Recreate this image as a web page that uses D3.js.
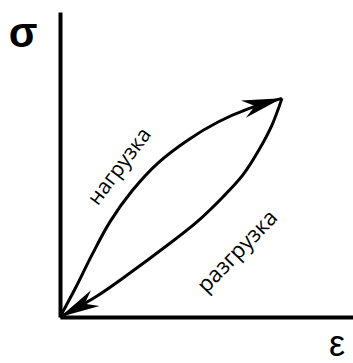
<!DOCTYPE html>
<html>
<head>
<meta charset="utf-8">
<script src="https://cdn.jsdelivr.net/npm/d3@7"></script>
<style>
  body { margin: 0; background: #fff; }
</style>
</head>
<body>
<div id="vizcontainer"></div>
<script>
// strain (eps) / stress (sigma) in arbitrary units, peak at (10, 10)
const loadEps = [0, 0.72, 1.44, 2.25, 3.24, 4.41, 5.77, 7.12, 8.47, 10];
const loadSig = [0, 1.37, 2.84, 4.35, 5.76, 7.04, 8.10, 8.92, 9.52, 10];
const unloadEps = [10, 9.55, 8.96, 8.24, 7.34, 6.17, 4.73, 3.15, 1.67, 0];
const unloadSig = [10, 8.78, 7.64, 6.50, 5.49, 4.35, 3.20, 2.01, 0.96, 0];
const axisLabels = ['σ', 'ε'];
const curveLabels = ['нагрузка', 'разгрузка'];

const width = 353,
  height = 363;

let viz = d3.select('#vizcontainer')
  .append('svg')
  .attr('width', width)
  .attr('height', height);

const x = d3.scaleLinear()
  .domain([0, 13.2])
  .range([60, 353]);

const y = d3.scaleLinear()
  .domain([0, 13.95])
  .range([317, 12]);

// arrow head
viz.append('defs')
  .append('marker')
  .attr('id', 'head')
  .attr('markerUnits', 'userSpaceOnUse')
  .attr('viewBox', '-40 -12 42 24')
  .attr('markerWidth', 42)
  .attr('markerHeight', 24)
  .attr('refX', 0)
  .attr('refY', 0)
  .attr('orient', 'auto')
  .append('path')
  .attr('d', 'M0,0 L-40,-9 L-28,0 L-40,9 Z')
  .attr('fill', '#000');

// axes without ticks
viz.append('g')
  .attr('transform', `translate(0,${y(0)})`)
  .call(d3.axisBottom(x).ticks(0).tickSizeOuter(0))
  .select('.domain')
  .attr('stroke-width', 4);

viz.append('g')
  .attr('transform', `translate(${x(0)},0)`)
  .call(d3.axisLeft(y).ticks(0).tickSizeOuter(0))
  .select('.domain')
  .attr('stroke-width', 4);

const line = d3.line()
  .x(d => x(d[0]))
  .y(d => y(d[1]))
  .curve(d3.curveCatmullRom.alpha(0.5));

const loading = d3.zip(loadEps, loadSig);
const unloading = d3.zip(unloadEps, unloadSig);

viz.append('path')
  .datum(loading)
  .attr('d', line)
  .attr('fill', 'none')
  .attr('stroke', '#000')
  .attr('stroke-width', 3)
  .attr('marker-end', 'url(#head)');

viz.append('path')
  .datum(unloading)
  .attr('d', line)
  .attr('fill', 'none')
  .attr('stroke', '#000')
  .attr('stroke-width', 3)
  .attr('marker-end', 'url(#head)');

// curve labels
viz.append('text')
  .attr('transform', 'translate(119,166) rotate(-53)')
  .attr('text-anchor', 'middle')
  .attr('dy', '0.35em')
  .style('font-family', 'Open Sans')
  .style('font-size', '21px')
  .text(curveLabels[0]);

viz.append('text')
  .attr('transform', 'translate(237,251) rotate(-46)')
  .attr('text-anchor', 'middle')
  .attr('dy', '0.35em')
  .style('font-family', 'Open Sans')
  .style('font-size', '22px')
  .text(curveLabels[1]);

// axis labels
viz.append('text')
  .attr('x', 23)
  .attr('y', 47)
  .attr('text-anchor', 'middle')
  .style('font-family', 'Liberation Sans')
  .style('font-weight', 'bold')
  .style('font-size', '42px')
  .text(axisLabels[0]);

viz.append('text')
  .attr('x', 337)
  .attr('y', 356)
  .attr('text-anchor', 'middle')
  .style('font-family', 'Liberation Sans')
  .style('font-size', '36px')
  .text(axisLabels[1]);
</script>
</body>
</html>
